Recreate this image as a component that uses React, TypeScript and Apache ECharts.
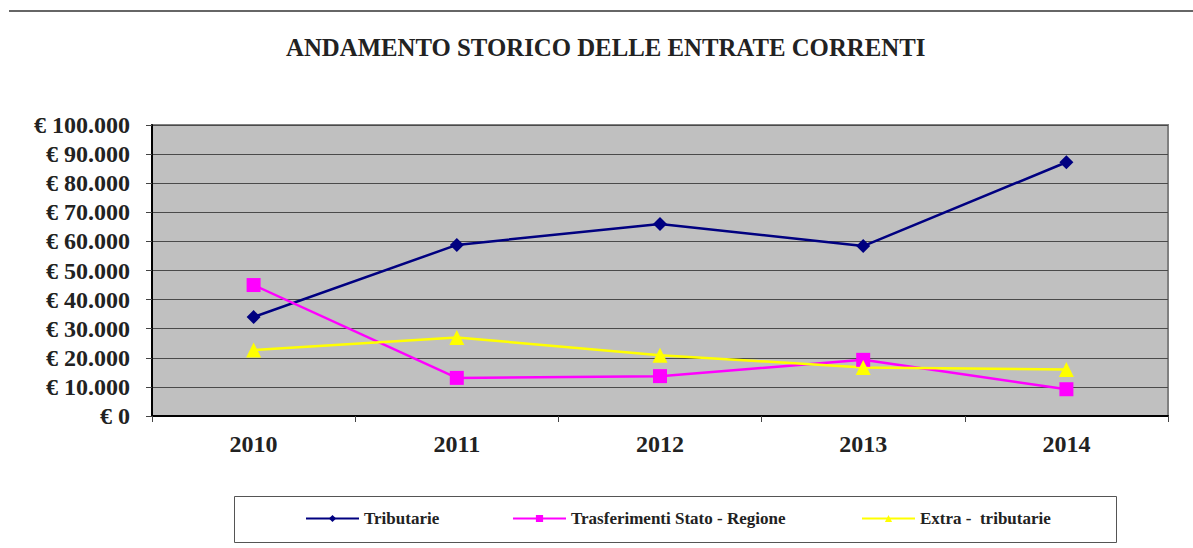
import React, { useEffect, useRef } from "react";
import * as echarts from "echarts";

const years = ["2010", "2011", "2012", "2013", "2014"];
const tributarie = [34000, 58800, 66000, 58400, 87200];
const trasferimenti = [45000, 13100, 13700, 19300, 9200];
const extraTributarie = [22700, 27000, 20900, 16700, 16000];
const seriesNames = ["Tributarie", "Trasferimenti Stato - Regione", "Extra -  tributarie"];
const titleText = "ANDAMENTO STORICO DELLE ENTRATE CORRENTI";

const FONT = "Liberation Serif";

function fmtEuro(v: number): string {
  const s = String(Math.round(v)).replace(/\B(?=(\d{3})+(?!\d))/g, ".");
  return "€ " + s;
}

export default function App() {
  const ref = useRef<HTMLDivElement>(null);
  useEffect(() => {
    if (!ref.current) return;
    const chart = echarts.init(ref.current, undefined, { renderer: "svg" });
    const legendBase = {
      top: 510,
      padding: 0,
      itemWidth: 53,
      itemHeight: 9,
      itemGap: 5,
      textStyle: { fontFamily: FONT, fontWeight: "bold", fontSize: 17, color: "#222" },
      selectedMode: false,
    };
    chart.setOption({
      animation: false,
      backgroundColor: "#ffffff",
      title: {
        text: titleText,
        left: 286,
        top: 35,
        padding: 0,
        textStyle: { fontFamily: FONT, fontWeight: "bold", fontSize: 24.8, color: "#222" },
      },
      legend: [
        { ...legendBase, left: 305, data: [seriesNames[0]] },
        { ...legendBase, left: 512, data: [seriesNames[1]] },
        { ...legendBase, left: 861, data: [seriesNames[2]] },
      ],
      grid: {
        left: 152,
        top: 125,
        right: 25,
        bottom: 132,
        show: true,
        backgroundColor: "#c0c0c0",
        borderColor: "#808080",
        borderWidth: 2,
      },
      xAxis: {
        type: "category",
        data: years,
        boundaryGap: true,
        axisLine: { show: true, lineStyle: { color: "#000", width: 2 } },
        axisTick: { show: true, alignWithLabel: false, length: 6, lineStyle: { color: "#444" } },
        axisLabel: {
          margin: 16,
          fontFamily: FONT,
          fontWeight: "bold",
          fontSize: 24,
          color: "#222",
        },
        splitLine: { show: false },
      },
      yAxis: {
        type: "value",
        min: 0,
        max: 100000,
        interval: 10000,
        axisLine: { show: true, lineStyle: { color: "#000", width: 2 } },
        axisTick: { show: true, length: 6, lineStyle: { color: "#444" } },
        axisLabel: {
          margin: 22,
          fontFamily: FONT,
          fontWeight: "bold",
          fontSize: 24,
          color: "#222",
          formatter: (v: number) => fmtEuro(v),
        },
        splitLine: { show: true, lineStyle: { color: "#4a4a4a", width: 1 } },
      },
      graphic: [
        {
          type: "line",
          shape: { x1: 9, y1: 11, x2: 1193, y2: 11 },
          style: { stroke: "#333", lineWidth: 1.5 },
        },
        {
          type: "rect",
          shape: { x: 234.5, y: 496.5, width: 882, height: 46 },
          style: { fill: "none", stroke: "#555", lineWidth: 1 },
        },
      ],
      series: [
        {
          name: seriesNames[0],
          type: "line",
          data: tributarie,
          symbol: "diamond",
          symbolSize: 14,
          lineStyle: { color: "#000080", width: 2.5 },
          itemStyle: { color: "#000080" },
        },
        {
          name: seriesNames[1],
          type: "line",
          data: trasferimenti,
          symbol: "rect",
          symbolSize: 14,
          lineStyle: { color: "#ff00ff", width: 2.5 },
          itemStyle: { color: "#ff00ff" },
        },
        {
          name: seriesNames[2],
          type: "line",
          data: extraTributarie,
          symbol: "triangle",
          symbolSize: 15,
          lineStyle: { color: "#ffff00", width: 2.5 },
          itemStyle: { color: "#ffff00" },
        },
      ],
    });
    return () => chart.dispose();
  }, []);
  return (
    <div
      ref={ref}
      style={{ position: "absolute", left: 0, top: 0, width: 1193, height: 548 }}
    />
  );
}
